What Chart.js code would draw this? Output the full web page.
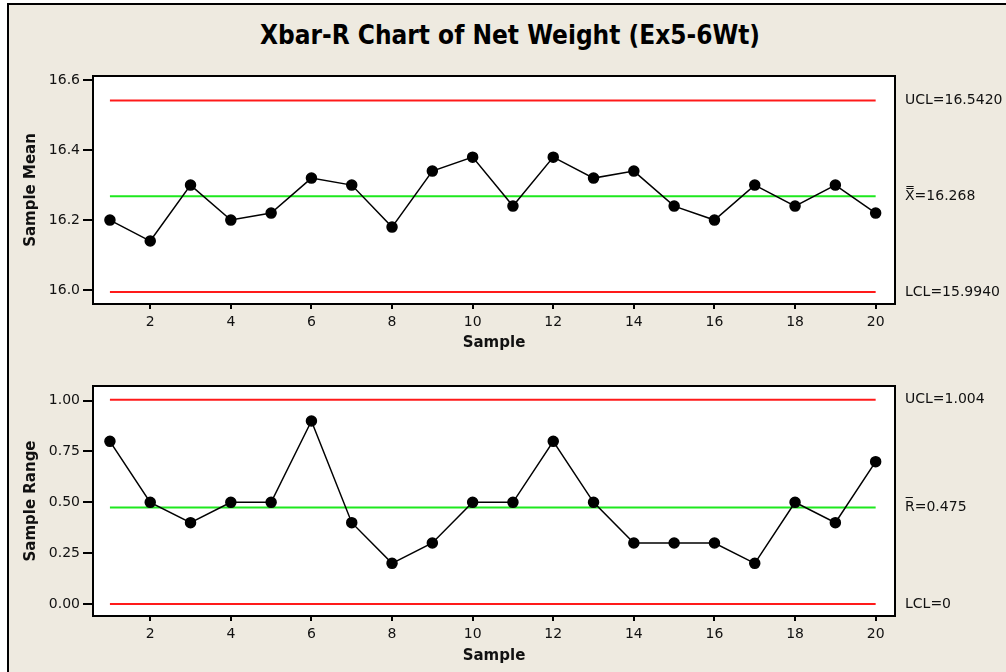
<!DOCTYPE html>
<html>
<head>
<meta charset="utf-8">
<script src="https://cdn.jsdelivr.net/npm/chart.js@4.4.1/dist/chart.umd.min.js"></script>
<style>
  body { margin: 0; width: 1006px; height: 672px; overflow: hidden; background: #fff; position: relative; }
  #painel { position: absolute; left: 7px; top: 3px; right: 0; bottom: 0; background: #eeeae0; border-left: 2px solid #000; border-top: 2px solid #000; }
  #titulo { position: absolute; left: 260px; top: 21px; font: bold 27px 'DejaVu Sans', sans-serif; line-height: 27px; white-space: nowrap; transform-origin: 0 0; color: #000; }
  canvas { position: absolute; left: 0; }
  #myChart { top: 0; }
  #myChart2 { top: 360px; }
</style>
</head>
<body>
<div id="painel"></div>
<div id="titulo">Xbar-R Chart of Net Weight (Ex5-6Wt)</div>
<canvas id="myChart" width="1006" height="360"></canvas>
<canvas id="myChart2" width="1006" height="312"></canvas>
<script>
// Dados das amostras
const samples = [1, 2, 3, 4, 5, 6, 7, 8, 9, 10, 11, 12, 13, 14, 15, 16, 17, 18, 19, 20]
const sampleMeans = [16.20, 16.14, 16.30, 16.20, 16.22, 16.32, 16.30, 16.18, 16.34, 16.38,
    16.24, 16.38, 16.32, 16.34, 16.24, 16.20, 16.30, 16.24, 16.30, 16.22]
const sampleRanges = [0.8, 0.5, 0.4, 0.5, 0.5, 0.9, 0.4, 0.2, 0.3, 0.5,
    0.5, 0.8, 0.5, 0.3, 0.3, 0.3, 0.2, 0.5, 0.4, 0.7]

// Limites de controle: UCL, linha central, LCL
const meanLimits = [16.542, 16.268, 15.994]
const meanLimitNames = ['UCL', 'X\u033F', 'LCL']
const meanLimitDecimals = [4, 3, 4]
const rangeLimits = [1.004, 0.475, 0]
const rangeLimitNames = ['UCL', 'R\u0305', 'LCL']
const rangeLimitDecimals = [3, 3, 0]

// Marcas dos eixos
const sampleTicks = [2, 4, 6, 8, 10, 12, 14, 16, 18, 20]
const meanTicks = [16.0, 16.2, 16.4, 16.6]
const rangeTicks = [0, 0.25, 0.5, 0.75, 1.0]

Chart.defaults.font.family = "'DejaVu Sans', Verdana, sans-serif"
Chart.defaults.color = '#111'

// fundo branco, moldura e textos dos limites à direita
const moldura = {
    id: 'moldura',
    beforeDraw(chart) {
        const a = chart.chartArea
        const ctx = chart.ctx
        ctx.save()
        ctx.fillStyle = '#fff'
        ctx.fillRect(a.left, a.top, a.right - a.left, a.bottom - a.top)
        ctx.restore()
    },
    afterDraw(chart, args, opts) {
        const a = chart.chartArea
        const ctx = chart.ctx
        ctx.save()
        ctx.strokeStyle = '#000'
        ctx.lineWidth = 2
        ctx.strokeRect(a.left, a.top, a.right - a.left, a.bottom - a.top)
        ctx.fillStyle = '#111'
        ctx.font = "14px 'DejaVu Sans'"
        ctx.textBaseline = 'middle'
        opts.values.forEach((v, i) => {
            let texto = opts.names[i] + '=' + v.toFixed(opts.decimals[i])
            ctx.fillText(texto, a.right + 10, chart.scales.y.getPixelForValue(v))
        })
        ctx.restore()
    }
}

function criarGrafico(id, valores, limites, nomes, casas, yTicks, yCasas, yMin, yMax, yTitulo, topo, tituloPad) {
    const datasets = [{
        data: samples.map((s, i) => ({ x: s, y: valores[i] })),
        borderColor: '#000',
        borderWidth: 1.5,
        pointRadius: 5,
        pointBackgroundColor: '#000',
        pointBorderColor: '#000',
        tension: 0
    }]
    limites.forEach((v, i) => {
        datasets.push({
            data: [{ x: samples[0], y: v }, { x: samples[samples.length - 1], y: v }],
            borderColor: i === 1 ? '#1ee81e' : '#ff1a1a',
            borderWidth: 2,
            pointRadius: 0
        })
    })

    return new Chart(document.getElementById(id), {
        type: 'line',
        data: { datasets: datasets },
        plugins: [moldura],
        options: {
            responsive: false,
            animation: false,
            layout: { padding: { top: topo, right: 111, left: 0, bottom: 0 } },
            plugins: {
                legend: { display: false },
                tooltip: { enabled: false },
                moldura: { values: limites, names: nomes, decimals: casas }
            },
            scales: {
                x: {
                    type: 'linear',
                    min: 0.58,
                    max: 20.48,
                    afterBuildTicks: axis => { axis.ticks = sampleTicks.map(v => ({ value: v })) },
                    afterFit: axis => { axis.height = 56 },
                    grid: { drawOnChartArea: false, tickLength: 5, color: '#000', lineWidth: 2 },
                    border: { display: false },
                    ticks: { padding: 5, font: { size: 14 } },
                    title: { display: true, text: 'Sample', font: { size: 15, weight: 'bold' }, padding: { top: 0, bottom: tituloPad } }
                },
                y: {
                    min: yMin,
                    max: yMax,
                    afterBuildTicks: axis => { axis.ticks = yTicks.map(v => ({ value: v })) },
                    afterFit: axis => { axis.width = 93 },
                    grid: { drawOnChartArea: false, tickLength: 10, color: '#000', lineWidth: 2 },
                    border: { display: false },
                    ticks: { padding: 3, font: { size: 14 }, callback: v => Number(v).toFixed(yCasas) },
                    title: { display: true, text: yTitulo, font: { size: 15, weight: 'bold' }, padding: { top: 22, bottom: 0 } }
                }
            }
        }
    })
}

criarGrafico('myChart', sampleMeans, meanLimits, meanLimitNames, meanLimitDecimals,
    meanTicks, 1, 15.96, 16.612, 'Sample Mean', 76, 8)
criarGrafico('myChart2', sampleRanges, rangeLimits, rangeLimitNames, rangeLimitDecimals,
    rangeTicks, 2, -0.059, 1.072, 'Sample Range', 26, 7)

// ajusta a largura do título
const titulo = document.getElementById('titulo')
const largura = titulo.getBoundingClientRect().width
titulo.style.transform = 'scaleX(' + (500 / largura) + ')'
</script>
</body>
</html>
